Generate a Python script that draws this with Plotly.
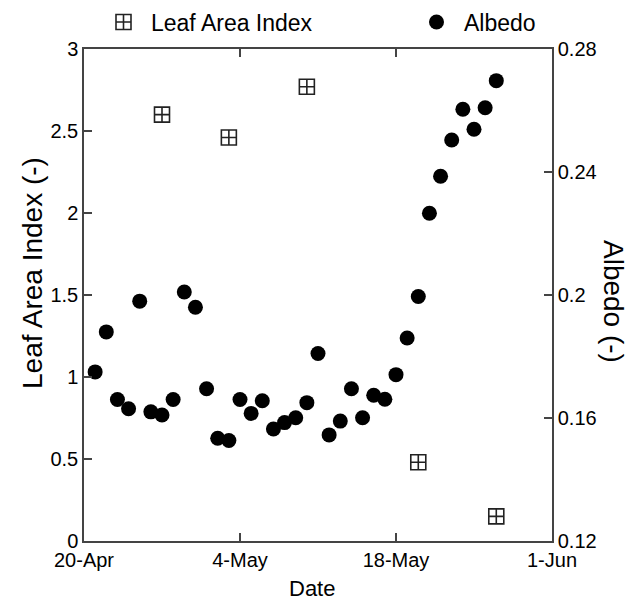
import plotly.graph_objects as go

# ---- data ----
lai_dates = ["2013-04-27", "2013-05-03", "2013-05-10", "2013-05-20", "2013-05-27"]
lai_values = [2.60, 2.46, 2.77, 0.48, 0.15]

albedo_dates = [
    "2013-04-21", "2013-04-22", "2013-04-23", "2013-04-24", "2013-04-25",
    "2013-04-26", "2013-04-27", "2013-04-28", "2013-04-29", "2013-04-30",
    "2013-05-01", "2013-05-02", "2013-05-03", "2013-05-04", "2013-05-05",
    "2013-05-06", "2013-05-07", "2013-05-08", "2013-05-09", "2013-05-10",
    "2013-05-11", "2013-05-12", "2013-05-13", "2013-05-14", "2013-05-15",
    "2013-05-16", "2013-05-17", "2013-05-18", "2013-05-19", "2013-05-20",
    "2013-05-21", "2013-05-22", "2013-05-23", "2013-05-24", "2013-05-25",
    "2013-05-26", "2013-05-27",
]
albedo_values = [
    0.175, 0.188, 0.166, 0.163, 0.198,
    0.162, 0.161, 0.166, 0.201, 0.196,
    0.1695, 0.1534, 0.1527, 0.166, 0.1615,
    0.1656, 0.1564, 0.1585, 0.1601, 0.165,
    0.181, 0.1545, 0.159, 0.1695, 0.1601,
    0.1674, 0.1661, 0.1741, 0.186, 0.1995,
    0.2266, 0.2386, 0.2504, 0.2604, 0.2539,
    0.2609, 0.2697,
]

x_ticks = ["2013-04-20", "2013-05-04", "2013-05-18", "2013-06-01"]
x_ticklabels = ["20-Apr", "4-May", "18-May", "1-Jun"]
lai_ticks = [0, 0.5, 1, 1.5, 2, 2.5, 3]
lai_ticklabels = ["0", "0.5", "1", "1.5", "2", "2.5", "3"]
alb_ticks = [0.12, 0.16, 0.20, 0.24, 0.28]
alb_ticklabels = ["0.12", "0.16", "0.2", "0.24", "0.28"]

FONT = "Liberation Sans, Arial, sans-serif"
AX = "#444444"
X_RANGE = ["2013-04-20", "2013-06-01"]

fig = go.Figure()
fig.add_trace(go.Scatter(
    x=lai_dates, y=lai_values, mode="markers", name="Leaf Area Index",
    marker=dict(symbol="square-cross-open", size=15, color="#222222",
                line=dict(width=1.6, color="#222222")),
    xaxis="x", yaxis="y", legend="legend",
))
fig.add_trace(go.Scatter(
    x=albedo_dates, y=albedo_values, mode="markers", name="Albedo",
    marker=dict(symbol="circle", size=15, color="black"),
    xaxis="x2", yaxis="y2", legend="legend2",
))

common_tick = dict(ticks="inside", ticklen=8, tickwidth=1.5, tickcolor=AX,
                   showline=True, linewidth=1.5, linecolor=AX,
                   showgrid=False, zeroline=False, automargin=False)

fig.update_layout(
    width=630, height=601,
    margin=dict(l=84, r=78, t=49, b=60, autoexpand=False),
    paper_bgcolor="white", plot_bgcolor="white",
    font=dict(family=FONT, size=20, color="black"),
    xaxis=dict(range=X_RANGE, tickvals=x_ticks, ticktext=x_ticklabels,
               tickfont=dict(size=20), anchor="y", **common_tick),
    xaxis2=dict(range=X_RANGE, tickvals=x_ticks, overlaying="x", side="top",
                anchor="y2", showticklabels=False, **common_tick),
    yaxis=dict(range=[0, 3], tickvals=lai_ticks, ticktext=lai_ticklabels,
               tickfont=dict(size=20), anchor="x", **common_tick),
    yaxis2=dict(range=[0.12, 0.28], tickvals=alb_ticks, ticktext=alb_ticklabels,
                overlaying="y", side="right", anchor="x2",
                tickfont=dict(size=20), **common_tick),
    legend=dict(
        orientation="h", xref="container", yref="container",
        x=96 / 630, y=1 - 22 / 601, xanchor="left", yanchor="middle",
        itemwidth=45, font=dict(size=23), bgcolor="rgba(0,0,0,0)",
    ),
    legend2=dict(
        orientation="h", xref="container", yref="container",
        x=409 / 630, y=1 - 22 / 601, xanchor="left", yanchor="middle",
        itemwidth=45, font=dict(size=23), bgcolor="rgba(0,0,0,0)",
    ),
    showlegend=True,
)

fig.add_annotation(
    text="Leaf Area Index (-)", xref="paper", yref="paper",
    x=(32 - 84) / 468, y=(541 - 273) / 492, textangle=-90,
    showarrow=False, font=dict(size=28), xanchor="center", yanchor="middle",
)
fig.add_annotation(
    text="Albedo (-)", xref="paper", yref="paper",
    x=(614 - 84) / 468, y=(541 - 301) / 492, textangle=90,
    showarrow=False, font=dict(size=28), xanchor="center", yanchor="middle",
)
fig.add_annotation(
    text="Date", xref="paper", yref="paper",
    x=(312 - 84) / 468, y=(541 - 588) / 492,
    showarrow=False, font=dict(size=22), xanchor="center", yanchor="middle",
)

fig.write_html("out.html", config={"displayModeBar": False},
               post_script="document.body.style.margin='0px';")
